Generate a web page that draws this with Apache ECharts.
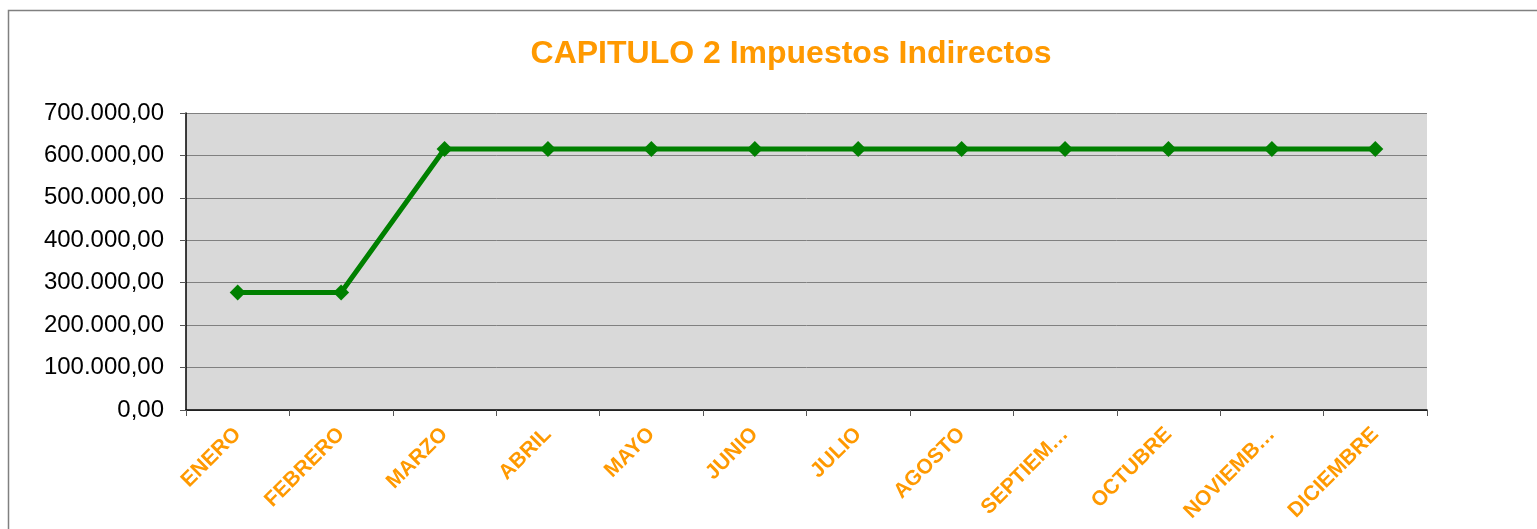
<!DOCTYPE html>
<html>
<head>
<meta charset="utf-8">
<script src="https://cdn.jsdelivr.net/npm/echarts@6/dist/echarts.min.js"></script>
<style>
  html, body { margin: 0; padding: 0; background: #fff; }
  #chart { width: 1537px; height: 529px; }
</style>
</head>
<body>
<div id="chart"></div>
<script>
const titleText = 'CAPITULO 2 Impuestos Indirectos';
const months = ['ENERO', 'FEBRERO', 'MARZO', 'ABRIL', 'MAYO', 'JUNIO', 'JULIO',
    'AGOSTO', 'SEPTIEMBRE', 'OCTUBRE', 'NOVIEMBRE', 'DICIEMBRE'];
const importes = [277000, 277000, 615000, 615000, 615000, 615000, 615000,
    615000, 615000, 615000, 615000, 615000];
const yMin = 0;
const yMax = 700000;
const yStep = 100000;

const labelFont = 'bold 21px "Liberation Sans", Arial, sans-serif';
const labelMaxWidth = 121;

// formato es-ES: 600.000,00
function fmtNum(v) {
    const parts = v.toFixed(2).split('.');
    return parts[0].replace(/\B(?=(\d{3})+(?!\d))/g, '.') + ',' + parts[1];
}

// recorta etiquetas largas como Excel (SEPTIEM…)
const ctx = document.createElement('canvas').getContext('2d');
ctx.font = labelFont;
function cutLabel(s) {
    if (ctx.measureText(s).width <= labelMaxWidth) return s;
    let t = s;
    while (t.length > 1 && ctx.measureText(t + '…').width > labelMaxWidth) {
        t = t.slice(0, -1);
    }
    return t + '…';
}

const myChart = echarts.init(document.getElementById('chart'));
const option = {
    animation: false,
    backgroundColor: '#fff',
    title: {
        text: titleText,
        left: 786,
        top: 33,
        textAlign: 'center',
        textStyle: {
            color: '#FF9900',
            fontFamily: 'Liberation Sans, Arial, sans-serif',
            fontWeight: 'bold',
            fontSize: 32
        }
    },
    graphic: [{
        type: 'rect',
        silent: true,
        shape: { x: 8.5, y: 10.5, width: 1700, height: 700 },
        style: { fill: 'none', stroke: '#808080', lineWidth: 1.5 }
    }],
    grid: {
        left: 186,
        top: 113,
        right: 110,
        bottom: 119,
        show: true,
        backgroundColor: '#D9D9D9',
        borderWidth: 0
    },
    xAxis: {
        type: 'category',
        data: months,
        boundaryGap: true,
        axisLine: { lineStyle: { color: '#000', width: 1.5 } },
        axisTick: { show: true, length: 6, lineStyle: { color: '#555' } },
        axisLabel: {
            rotate: 45,
            margin: 21,
            interval: 0,
            color: '#FF9900',
            fontFamily: 'Liberation Sans, Arial, sans-serif',
            fontWeight: 'bold',
            fontSize: 21,
            formatter: cutLabel
        },
        splitLine: { show: false }
    },
    yAxis: {
        type: 'value',
        min: yMin,
        max: yMax,
        interval: yStep,
        axisLine: { show: true, lineStyle: { color: '#000', width: 1.5 } },
        axisTick: { show: true, length: 6, lineStyle: { color: '#555' } },
        axisLabel: {
            margin: 22,
            color: '#000',
            fontFamily: 'Liberation Sans, Arial, sans-serif',
            fontSize: 24,
            formatter: fmtNum
        },
        splitLine: { show: true, lineStyle: { color: '#808080', width: 1 } }
    },
    series: [{
        type: 'line',
        data: importes,
        symbol: 'diamond',
        symbolSize: 16,
        lineStyle: { color: '#008000', width: 5 },
        itemStyle: { color: '#008000' }
    }]
};
myChart.setOption(option);
window.addEventListener('resize', () => {
    myChart.resize();
});
</script>
</body>
</html>
